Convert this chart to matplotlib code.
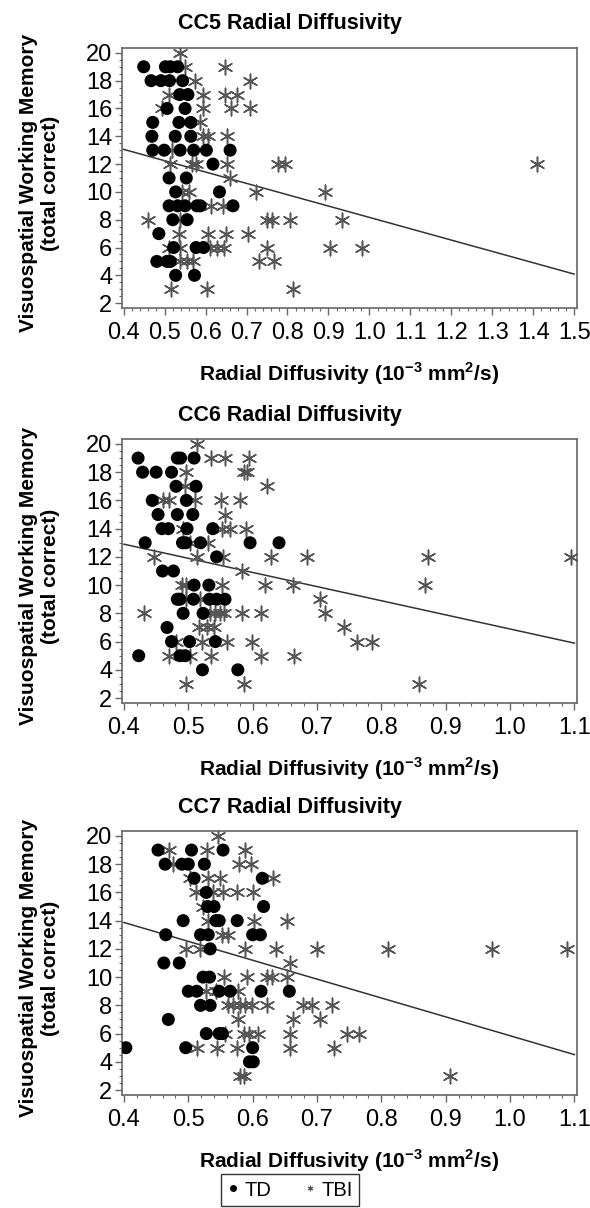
import numpy as np
import matplotlib
matplotlib.use('Agg')
import matplotlib.pyplot as plt
from matplotlib.lines import Line2D
from matplotlib.ticker import MultipleLocator, AutoMinorLocator

plt.rcParams.update({
    'font.family': ['Liberation Sans', 'DejaVu Sans'],
    'mathtext.fontset': 'custom',
    'mathtext.rm': 'Liberation Sans',
    'mathtext.bf': 'Liberation Sans:bold',
})

# scores (total correct) -> radial diffusivity values
CC5_TD = {
    19: [0.449, 0.502, 0.514, 0.532],
    18: [0.467, 0.491, 0.512, 0.544],
    17: [0.537, 0.557],
    16: [0.506, 0.550],
    15: [0.471, 0.535, 0.564],
    14: [0.469, 0.526, 0.564],
    13: [0.471, 0.499, 0.538, 0.571, 0.602, 0.660],
    12: [0.618],
    11: [0.511, 0.553],
    10: [0.527, 0.634],
    9: [0.511, 0.532, 0.550, 0.579, 0.587, 0.667],
    8: [0.520, 0.555],
    7: [0.486],
    6: [0.522, 0.577, 0.595],
    5: [0.481, 0.506, 0.514],
    4: [0.527, 0.573],
}
CC5_TBI = {
    20: [0.538],
    19: [0.550, 0.648],
    18: [0.575, 0.708],
    17: [0.510, 0.593, 0.648, 0.677],
    16: [0.494, 0.595, 0.662, 0.708],
    15: [0.586],
    14: [0.595, 0.607, 0.652],
    13: [0.518],
    12: [0.513, 0.567, 0.577, 0.652, 0.778, 0.794, 1.409],
    11: [0.659],
    10: [0.542, 0.559, 0.724, 0.892],
    9: [0.613, 0.642],
    8: [0.459, 0.538, 0.750, 0.762, 0.807, 0.933],
    7: [0.534, 0.607, 0.651, 0.703],
    6: [0.510, 0.538, 0.612, 0.628, 0.644, 0.750, 0.904, 0.982],
    5: [0.538, 0.555, 0.569, 0.730, 0.766],
    3: [0.516, 0.603, 0.813],
}
CC5_FIT_X = [0.4, 1.5]
CC5_FIT_Y = [13.06, 4.09]

CC6_TD = {
    19: [0.422, 0.483, 0.488, 0.509],
    18: [0.429, 0.450, 0.474],
    17: [0.481, 0.512],
    16: [0.444, 0.497],
    15: [0.453, 0.483, 0.507],
    14: [0.459, 0.469, 0.498, 0.538],
    13: [0.433, 0.491, 0.496, 0.519, 0.596, 0.641],
    12: [0.544],
    11: [0.460, 0.477],
    10: [0.509, 0.532],
    9: [0.483, 0.487, 0.508, 0.533, 0.544, 0.557],
    8: [0.492, 0.523],
    7: [0.467],
    6: [0.474, 0.502, 0.542],
    5: [0.423, 0.487, 0.495],
    4: [0.522, 0.577],
}
CC6_TBI = {
    20: [0.514],
    19: [0.536, 0.557, 0.595],
    18: [0.496, 0.587, 0.591],
    17: [0.495, 0.622],
    16: [0.461, 0.470, 0.510, 0.551, 0.580],
    15: [0.557],
    14: [0.492, 0.552, 0.565, 0.589],
    13: [0.503, 0.531],
    12: [0.446, 0.513, 0.554, 0.629, 0.684, 0.872, 1.095],
    11: [0.583],
    10: [0.490, 0.497, 0.553, 0.619, 0.662, 0.868],
    9: [0.497, 0.518, 0.705],
    8: [0.431, 0.534, 0.542, 0.549, 0.556, 0.583, 0.613, 0.713],
    7: [0.516, 0.529, 0.540, 0.742],
    6: [0.481, 0.522, 0.560, 0.599, 0.762, 0.786],
    5: [0.470, 0.503, 0.536, 0.613, 0.664],
    3: [0.497, 0.587, 0.859],
}
CC6_FIT_X = [0.4, 1.1]
CC6_FIT_Y = [12.9, 5.89]

CC7_TD = {
    19: [0.453, 0.505, 0.554],
    18: [0.464, 0.490, 0.500, 0.525],
    17: [0.509, 0.615],
    16: [0.528],
    15: [0.530, 0.540, 0.617],
    14: [0.492, 0.543, 0.548, 0.576],
    13: [0.465, 0.519, 0.531, 0.600, 0.612],
    12: [0.534],
    11: [0.462, 0.486],
    10: [0.523, 0.533],
    9: [0.500, 0.513, 0.548, 0.565, 0.613, 0.657],
    8: [0.519, 0.534],
    7: [0.469],
    6: [0.528, 0.548, 0.553],
    5: [0.403, 0.496, 0.600],
    4: [0.595, 0.601],
}
CC7_TBI = {
    20: [0.546],
    19: [0.470, 0.529, 0.588],
    18: [0.476, 0.579, 0.597],
    17: [0.503, 0.531, 0.550, 0.632],
    16: [0.512, 0.538, 0.554, 0.575, 0.600],
    15: [0.523],
    14: [0.531, 0.602, 0.653],
    13: [0.553, 0.562],
    12: [0.496, 0.518, 0.588, 0.636, 0.700, 0.811, 0.972, 1.088],
    11: [0.658],
    10: [0.556, 0.591, 0.622, 0.630, 0.654],
    9: [0.528, 0.543, 0.578],
    8: [0.562, 0.569, 0.580, 0.588, 0.599, 0.623, 0.679, 0.692, 0.724],
    7: [0.577, 0.663, 0.704],
    6: [0.557, 0.586, 0.595, 0.609, 0.658, 0.746, 0.766],
    5: [0.514, 0.544, 0.575, 0.658, 0.727],
    3: [0.580, 0.586, 0.906],
}
CC7_FIT_X = [0.4, 1.1]
CC7_FIT_Y = [13.87, 4.51]

PANELS = [
    ('CC5 Radial Diffusivity', CC5_TD, CC5_TBI, CC5_FIT_X, CC5_FIT_Y, (0.396, 1.507), np.arange(0.4, 1.51, 0.1)),
    ('CC6 Radial Diffusivity', CC6_TD, CC6_TBI, CC6_FIT_X, CC6_FIT_Y, (0.397, 1.104), np.arange(0.4, 1.11, 0.1)),
    ('CC7 Radial Diffusivity', CC7_TD, CC7_TBI, CC7_FIT_X, CC7_FIT_Y, (0.397, 1.104), np.arange(0.4, 1.11, 0.1)),
]

# axes boxes in pixels: (top, bottom)
BOXES = [(48, 308), (439, 703), (831, 1095)]
W, H = 590, 1208
LEFT, RIGHT = 122, 577

TD_COLOR = 'black'
TBI_COLOR = '#555555'
FRAME = '#666666'
ASTERISK = (6, 2, 0)


def flatten(d):
    xs, ys = [], []
    for score, vals in d.items():
        for v in vals:
            xs.append(v)
            ys.append(score)
    return xs, ys


fig = plt.figure(figsize=(W / 100, H / 100), dpi=100)

for (title, td, tbi, fx, fy, xlim, xticks), (top, bot) in zip(PANELS, BOXES):
    ax = fig.add_axes([LEFT / W, 1 - bot / H, (RIGHT - LEFT) / W, (bot - top) / H])

    tx, ty = flatten(tbi)
    ax.scatter(tx, ty, marker=ASTERISK, s=110, color=TBI_COLOR, linewidths=1.1, zorder=3)
    dx, dy = flatten(td)
    ax.scatter(dx, dy, marker='o', s=88, color=TD_COLOR, edgecolors='none', zorder=4)
    ax.plot(fx, fy, color='#333333', lw=1.1, zorder=2)

    ax.set_xlim(*xlim)
    ax.set_ylim(1.65, 20.35)
    ax.set_xticks(xticks)
    ax.set_xticklabels([f'{t:.1f}' for t in xticks])
    ax.set_yticks(range(2, 21, 2))
    ax.xaxis.set_minor_locator(AutoMinorLocator(5))
    ax.yaxis.set_minor_locator(MultipleLocator(0.5))
    ax.tick_params(which='major', length=5, width=1, color=FRAME, labelsize=17)
    ax.tick_params(axis='x', which='major', pad=5)
    ax.tick_params(axis='y', which='major', pad=2)
    ax.tick_params(which='minor', length=2.5, width=0.8, color=FRAME)
    for sp in ax.spines.values():
        sp.set_color(FRAME)
        sp.set_linewidth(1.2)

    ax.text((290 - LEFT) / (RIGHT - LEFT), 1 + 24 / (bot - top), title,
            transform=ax.transAxes, ha='center', va='center',
            fontsize=15.5, fontweight='bold')
    ax.set_xlabel(r'Radial Diffusivity (10$^{\mathbf{-3}}$ mm$^{\mathbf{2}}$/s)',
                  fontsize=15, fontweight='bold')
    ax.xaxis.set_label_coords(0.5, -52 / (bot - top))
    ax.set_ylabel('Visuospatial Working Memory\n(total correct)',
                  fontsize=15, fontweight='bold', linespacing=1.2)
    ax.yaxis.set_label_coords(-(LEFT - 60) / (RIGHT - LEFT), 0.48)

handles = [
    Line2D([], [], marker='o', color=TD_COLOR, linestyle='none', markersize=4),
    Line2D([], [], marker=ASTERISK, color=TBI_COLOR, linestyle='none', markersize=4, markeredgewidth=0.8),
]
fig.legend(handles, ['TD', 'TBI'], loc='center', bbox_to_anchor=(290 / W, 1 - 1190 / H),
           ncol=2, fontsize=14.5, frameon=True, fancybox=False, edgecolor='black',
           handlelength=0.6, handletextpad=0.3, columnspacing=1.6, borderpad=0.3)

fig.savefig('out.png', dpi=100)
